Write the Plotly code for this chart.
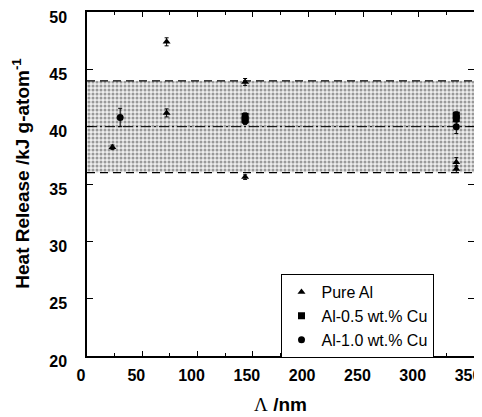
import plotly.graph_objects as go

# Pure Al
pure_x = [23, 72, 72, 143, 143, 334, 334]
pure_y = [38.2, 47.4, 41.2, 43.9, 35.6, 36.9, 36.3]
pure_err = [0.2, 0.35, 0.35, 0.3, 0.2, 0.4, 0.3]

# Al-0.5 wt.% Cu
cu05_x = [143, 143, 334, 334]
cu05_y = [40.9, 40.6, 41.0, 40.7]
cu05_err = [0.3, 0.3, 0.3, 0.3]

# Al-1.0 wt.% Cu
cu10_x = [30, 143, 334]
cu10_y = [40.8, 40.5, 40.0]
cu10_err = [0.8, 0.3, 0.6]

band_x = [0, 350]
band_low = [36, 36]
band_high = [44, 44]
band_mid = [40, 40]

x_ticks = [0, 50, 100, 150, 200, 250, 300, 350]
y_ticks = [20, 25, 30, 35, 40, 45, 50]

FONT = "Liberation Sans, Arial, Helvetica, sans-serif"

fig = go.Figure()

fig.add_trace(go.Scatter(x=band_x, y=band_low, mode="lines",
                         line=dict(color="black", width=1.2, dash="8px,5px"),
                         showlegend=False, hoverinfo="skip"))
fig.add_trace(go.Scatter(x=band_x, y=band_high, mode="lines", fill="tonexty",
                         fillcolor="rgba(255,255,255,1)",
                         fillpattern=dict(shape=".", fgcolor="#444444", bgcolor="#eeeeee",
                                          size=4, solidity=0.45),
                         line=dict(color="black", width=1.2, dash="8px,5px"),
                         showlegend=False, hoverinfo="skip"))
fig.add_trace(go.Scatter(x=band_x, y=band_mid, mode="lines",
                         line=dict(color="black", width=1, dash="10px,3px,2px,3px"),
                         showlegend=False, hoverinfo="skip"))

err_style = dict(type="data", thickness=1, width=2, color="black")

fig.add_trace(go.Scatter(x=pure_x, y=pure_y, mode="markers", name="Pure Al",
                         marker=dict(symbol="triangle-up", size=7, color="black"),
                         error_y=dict(array=pure_err, **err_style)))
fig.add_trace(go.Scatter(x=cu05_x, y=cu05_y, mode="markers", name="Al-0.5 wt.% Cu",
                         marker=dict(symbol="square", size=7, color="black"),
                         error_y=dict(array=cu05_err, **err_style)))
fig.add_trace(go.Scatter(x=cu10_x, y=cu10_y, mode="markers", name="Al-1.0 wt.% Cu",
                         marker=dict(symbol="circle", size=7, color="black"),
                         error_y=dict(array=cu10_err, **err_style)))

fig.update_layout(
    width=482, height=417,
    margin=dict(l=79, r=16, t=4, b=69),
    paper_bgcolor="white", plot_bgcolor="white",
    font=dict(family=FONT, color="black"),
    legend=dict(x=0.50, y=0.238, xanchor="left", yanchor="top",
                traceorder="normal",
                bordercolor="black", borderwidth=1, bgcolor="white",
                font=dict(family=FONT, size=16), tracegroupgap=0,
                itemwidth=30),
    annotations=[dict(text="Heat Release /kJ g-atom<sup>-1</sup>",
                      xref="paper", yref="paper", x=0, y=0.53,
                      xanchor="center", yanchor="middle", xshift=-66,
                      textangle=-90, showarrow=False,
                      font=dict(family=FONT, size=19, weight="bold"))],
)

fig.update_xaxes(
    range=[0, 350], tickvals=x_ticks, ticktext=[str(v) for v in x_ticks],
    ticks="inside", ticklen=5, tickwidth=1, tickcolor="black",
    minor=dict(dtick=25, ticks="inside", ticklen=3, tickcolor="black"),
    showline=True, linecolor="black", linewidth=1.5, mirror="allticks",
    showgrid=False, zeroline=False, automargin=False,
    ticklabeloverflow="allow", ticklabelshift=-6,
    tickfont=dict(family=FONT, size=16, weight="bold"),
    ticklabelstandoff=4,
    title=dict(text="<span style='font-family:Liberation Serif, Times New Roman, serif;font-weight:normal'>Λ</span> /nm",
               font=dict(family=FONT, size=19, weight="bold"), standoff=15),
)
fig.update_yaxes(
    range=[20, 50], tickvals=y_ticks, ticktext=[str(v) for v in y_ticks],
    ticks="inside", ticklen=6, tickwidth=1, tickcolor="black",
    showline=True, linecolor="black", linewidth=1.5, mirror="allticks",
    showgrid=False, zeroline=False, automargin=False,
    ticklabeloverflow="allow", ticklabelshift=5,
    tickfont=dict(family=FONT, size=16, weight="bold"),
    ticklabelstandoff=15,
)

fig.write_html("out.html")
